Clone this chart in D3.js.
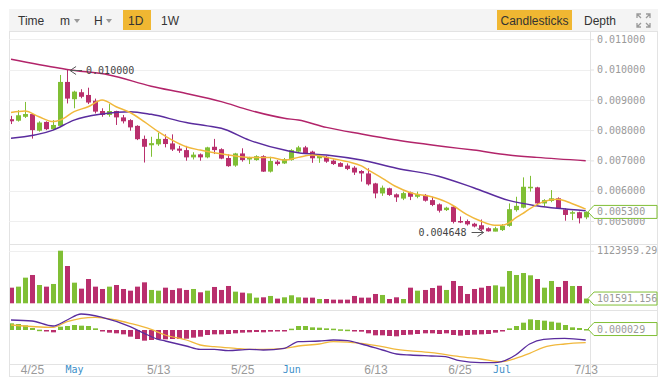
<!DOCTYPE html>
<html>
<head>
<meta charset="utf-8">
<script src="https://cdn.jsdelivr.net/npm/d3@7"></script>
<style>
  body { margin: 0; background: #fff; }
  svg { display: block; }
  .mono { font-family: "DejaVu Sans Mono", monospace; }
</style>
</head>
<body>
<svg id="chart" width="671" height="380"></svg>
<script>
// ---- data ----
const firstDay = new Date(Date.UTC(2018, 3, 22));
const lastDay = new Date(Date.UTC(2018, 6, 13));
const days = d3.utcDay.range(firstDay, d3.utcDay.offset(lastDay, 1)); // 83 daily candles

const open = [0.00836,0.00831,0.00844,0.00853,0.00798,0.00827,0.00803,0.00814,0.00959,0.00902,
  0.00925,0.00916,0.00897,0.00863,0.00850,0.00863,0.00842,0.00833,0.00814,0.00771,
  0.00750,0.00753,0.00771,0.00756,0.00739,0.00734,0.00710,0.00720,0.00710,0.00745,
  0.00737,0.00708,0.00683,0.00723,0.00703,0.00701,0.00714,0.00663,0.00696,0.00690,
  0.00701,0.00729,0.00743,0.00729,0.00707,0.00712,0.00699,0.00691,0.00683,0.00676,
  0.00665,0.00657,0.00624,0.00591,0.00608,0.00588,0.00574,0.00594,0.00580,0.00586,
  0.00569,0.00555,0.00536,0.00547,0.00500,0.00500,0.00491,0.00486,0.00476,0.00465,
  0.00470,0.00484,0.00536,0.00544,0.00608,0.00611,0.00558,0.00566,0.00575,0.00538,
  0.00525,0.00529,0.00512];
const high = [0.00847,0.00866,0.00893,0.00855,0.00829,0.00829,0.00833,0.00982,0.01000,0.00930,
  0.00935,0.00940,0.00904,0.00872,0.00886,0.00864,0.00850,0.00836,0.00816,0.00782,
  0.00778,0.00791,0.00786,0.00786,0.00748,0.00748,0.00727,0.00723,0.00745,0.00771,
  0.00740,0.00720,0.00725,0.00740,0.00712,0.00717,0.00717,0.00712,0.00701,0.00708,
  0.00737,0.00748,0.00748,0.00732,0.00721,0.00715,0.00703,0.00694,0.00690,0.00681,
  0.00668,0.00674,0.00626,0.00617,0.00610,0.00591,0.00597,0.00597,0.00597,0.00589,
  0.00580,0.00558,0.00547,0.00550,0.00515,0.00505,0.00494,0.00505,0.00479,0.00481,
  0.00490,0.00558,0.00580,0.00644,0.00649,0.00613,0.00572,0.00602,0.00578,0.00542,
  0.00534,0.00531,0.00532];
const low = [0.00820,0.00828,0.00840,0.00772,0.00795,0.00800,0.00800,0.00812,0.00888,0.00872,
  0.00905,0.00886,0.00855,0.00844,0.00844,0.00817,0.00822,0.00798,0.00767,0.00693,
  0.00712,0.00748,0.00743,0.00731,0.00725,0.00699,0.00703,0.00699,0.00707,0.00721,
  0.00704,0.00679,0.00679,0.00696,0.00688,0.00699,0.00662,0.00660,0.00683,0.00688,
  0.00699,0.00725,0.00721,0.00692,0.00692,0.00692,0.00685,0.00679,0.00668,0.00652,
  0.00630,0.00617,0.00575,0.00583,0.00583,0.00563,0.00569,0.00569,0.00575,0.00564,
  0.00549,0.00528,0.00533,0.00492,0.00493,0.00485,0.00479,0.00467,0.004648,0.00466,
  0.00467,0.00481,0.00531,0.00542,0.00597,0.00553,0.00547,0.00562,0.00540,0.00501,
  0.00503,0.00492,0.00506];
const close = [0.00829,0.00849,0.00853,0.00800,0.00825,0.00803,0.00817,0.00959,0.00904,0.00927,
  0.00910,0.00891,0.00861,0.00850,0.00863,0.00842,0.00829,0.00809,0.00770,0.00745,
  0.00757,0.00771,0.00754,0.00736,0.00732,0.00710,0.00719,0.00710,0.00743,0.00734,
  0.00706,0.00681,0.00723,0.00701,0.00708,0.00714,0.00663,0.00698,0.00688,0.00704,
  0.00734,0.00743,0.00723,0.00707,0.00715,0.00696,0.00688,0.00679,0.00672,0.00660,
  0.00657,0.00621,0.00591,0.00610,0.00586,0.00578,0.00592,0.00580,0.00589,0.00567,
  0.00553,0.00534,0.00544,0.00497,0.00496,0.00489,0.00482,0.00472,0.00466,0.00476,
  0.00484,0.00539,0.00550,0.00613,0.00613,0.00558,0.00569,0.00575,0.00542,0.00520,
  0.00529,0.00509,0.00530];
const volume = [334000,356000,548000,605000,391000,356000,413000,1123959.29,797000,441000,
  313000,519000,356000,306000,356000,391000,306000,270000,356000,448000,
  285000,270000,334000,285000,320000,285000,306000,235000,270000,349000,
  285000,370000,249000,228000,213000,121000,128000,157000,100000,128000,
  171000,128000,121000,121000,92000,92000,78000,78000,78000,157000,
  121000,121000,199000,178000,92000,128000,92000,334000,270000,285000,
  327000,377000,285000,477000,370000,199000,306000,334000,370000,384000,
  356000,690000,605000,647000,598000,519000,334000,477000,349000,477000,
  370000,370000,101591.156];
const macdHist = [0.00020,0.00018,0.00014,0.00006,0.00001,-0.00002,-0.00007,0.00010,0.00012,0.00015,
  0.00013,0.00012,0.00005,-0.00003,-0.00008,-0.00010,-0.00013,-0.00020,-0.00027,-0.00032,
  -0.00030,-0.00028,-0.00028,-0.00027,-0.00027,-0.00026,-0.00023,-0.00020,-0.00015,-0.00013,
  -0.00013,-0.00012,-0.00010,-0.00008,-0.00007,-0.00006,-0.00007,-0.00005,-0.00004,-0.00002,
  0.00004,0.00012,0.00012,0.00008,0.00007,0.00005,0.00004,0.00002,0.00001,-0.00003,
  -0.00005,-0.00010,-0.00016,-0.00016,-0.00018,-0.00019,-0.00015,-0.00014,-0.00012,-0.00010,
  -0.00010,-0.00012,-0.00010,-0.00015,-0.00017,-0.00015,-0.00014,-0.00013,-0.00012,-0.00008,
  -0.00003,0.00005,0.00012,0.00022,0.00032,0.00030,0.00028,0.00025,0.00022,0.00015,
  0.00008,0.00006,0.000029];

// moving averages, read at [candle index, value]
const ma7 = [[0,0.00858],[2,0.00863],[4,0.00844],[6,0.00828],[7,0.00833],[9,0.00861],[11,0.00877],
  [13,0.00899],[15,0.00877],[17,0.00858],[19,0.00828],[21,0.00795],[23,0.00767],[25,0.00745],
  [27,0.00734],[29,0.00725],[31,0.00718],[34,0.00710],[37,0.00710],[39,0.00701],[41,0.00710],
  [43,0.00718],[45,0.00710],[48,0.00696],[50,0.00682],[51,0.00668],[53,0.00641],[55,0.00613],
  [57,0.00593],[60,0.00580],[62,0.00564],[63,0.00552],[65,0.00522],[67,0.00500],[69,0.00486],
  [70,0.00486],[71,0.00493],[72,0.00510],[73,0.00524],[74,0.00540],[76,0.00564],[78,0.00572],
  [80,0.00558],[82,0.00539]];
const ma25 = [[0,0.00773],[6,0.00800],[9,0.00833],[13,0.00853],[17,0.00861],[20,0.00852],
  [25,0.00825],[28,0.00814],[30,0.00806],[34,0.00767],[39,0.00734],[41,0.00725],[45,0.00718],
  [50,0.00701],[55,0.00674],[61,0.00648],[66,0.00610],[71,0.00568],[75,0.00550],[82,0.00534]];
const ma99 = [[0,0.01034],[7,0.01004],[8,0.01000],[14,0.00982],[20,0.00945],[25,0.00921],
  [30,0.00894],[34,0.00866],[39,0.00839],[41,0.00833],[45,0.00809],[50,0.00787],[55,0.00767],
  [62,0.00745],[66,0.00734],[71,0.00718],[75,0.00710],[82,0.00699]];
const dif = [[0,0.00030],[3,0.00027],[6,0.00012],[8,0.00030],[10,0.00048],[13,0.00038],[17,0.00010],
  [19,-0.00010],[21,-0.00028],[22,-0.00033],[25,-0.00048],[27,-0.00058],[29,-0.00058],[31,-0.00062],
  [34,-0.00058],[36,-0.00060],[39,-0.00055],[41,-0.00035],[44,-0.00033],[46,-0.00030],[48,-0.00032],
  [50,-0.00042],[53,-0.00060],[55,-0.00072],[57,-0.00075],[60,-0.00078],[62,-0.00080],[64,-0.00092],
  [67,-0.00098],[69,-0.00098],[70,-0.00095],[72,-0.00075],[74,-0.00042],[76,-0.00028],[79,-0.00025],
  [82,-0.00030]];
const dea = [[0,0.00015],[6,0.00008],[8,0.00025],[12,0.00038],[15,0.00030],[17,0.00020],[20,0.00002],
  [22,-0.00015],[25,-0.00030],[27,-0.00045],[29,-0.00050],[32,-0.00055],[34,-0.00058],[36,-0.00058],
  [39,-0.00055],[41,-0.00048],[44,-0.00042],[46,-0.00035],[50,-0.00040],[53,-0.00050],[55,-0.00058],
  [60,-0.00068],[64,-0.00080],[67,-0.00087],[70,-0.00095],[72,-0.00085],[74,-0.00070],[76,-0.00052],
  [79,-0.00042],[82,-0.00038]];

const priceTicks = [0.011, 0.010, 0.009, 0.008, 0.007, 0.006, 0.005];
const tickDates = ["2018-04-25","2018-05-01","2018-05-13","2018-05-25","2018-06-01","2018-06-13","2018-06-25","2018-07-01","2018-07-13"];
const tickLabels = ["4/25","May","5/13","5/25","Jun","6/13","6/25","Jul","7/13"];
const monthTicks = ["May","Jun","Jul"];
const toolbarLeft = ["Time","m","H","1D","1W"];
const toolbarRight = ["Candlesticks","Depth"];
const highMark = {index: 8, label: "0.010000"};
const lowMark = {index: 68, label: "0.004648"};
const lastPriceLabel = "0.005300";
const lastVolLabel = "101591.156";
const lastMacdLabel = "0.000029";

// ---- colours ----
const upColor = "#80bf35", downColor = "#b92f6d";
const ma7Color = "#f1b83c", ma25Color = "#5a2c9e", ma99Color = "#b2246a";
const gridColor = "#efefef", borderColor = "#e3e3e3", axisText = "#9a9a9a";

// ---- layout ----
const svg = d3.select("#chart");
const left = 9, right = 658, plotRight = 590;
const priceTop = 31, priceBottom = 244, volBottom = 310, macdBottom = 364, frameBottom = 377;

const x = d3.scaleUtc().domain([days[0], days[days.length - 1]]).range([11, 585.7]);
const yPrice = d3.scaleLinear().domain([0.004241, 0.011271]).range([priceBottom, priceTop]);
const yVol = d3.scaleLinear().domain([0, 1123959.29]).range([303.3, 250.7]);
const yMacd = d3.scaleLinear().domain([-0.00102, 0.0006]).range([macdBottom, volBottom]);

const candleW = 5;
const isUp = i => close[i] >= open[i];
const idx = d3.range(days.length);

// toolbar
svg.append("rect").attr("x", left).attr("y", 9).attr("width", right - left).attr("height", priceTop - 9)
  .attr("fill", "#f4f4f4");
const tb = svg.append("g").attr("font-family", "'Liberation Sans', Arial, sans-serif").attr("font-size", 12).attr("fill", "#333");
const leftPos = [18, 60, 94, 128, 161];
toolbarLeft.forEach((t, i) => {
  if (t === "1D") {
    svg.insert("rect", "g").attr("x", 123).attr("y", 10).attr("width", 28).attr("height", 20).attr("fill", "#f0b732");
  }
  tb.append("text").attr("x", leftPos[i]).attr("y", 25).text(t);
  if (t === "m" || t === "H") {
    const cx = leftPos[i] + (t === "m" ? 17 : 15);
    tb.append("path").attr("d", `M${cx - 3},19 L${cx + 3},19 L${cx},23 Z`).attr("fill", "#999");
  }
});
svg.insert("rect", "g").attr("x", 497).attr("y", 10).attr("width", 75).attr("height", 20).attr("fill", "#f0b732");
tb.append("text").attr("x", 534.5).attr("y", 25).attr("text-anchor", "middle").text(toolbarRight[0]);
tb.append("text").attr("x", 584).attr("y", 25).text(toolbarRight[1]);
// fullscreen icon
const fs = svg.append("g").attr("stroke", "#9a9a9a").attr("stroke-width", 1.3).attr("fill", "none");
[[637, 14, 1, 1], [650, 14, -1, 1], [637, 27, 1, -1], [650, 27, -1, -1]].forEach(([cx, cy, dx, dy]) => {
  fs.append("path").attr("d", `M${cx},${cy + 4 * dy} L${cx},${cy} L${cx + 4 * dx},${cy} M${cx},${cy} L${cx + 4 * dx},${cy + 4 * dy}`);
});

// frame and pane separators
svg.append("rect").attr("x", left + 0.5).attr("y", priceTop + 0.5).attr("width", right - left - 1).attr("height", frameBottom - priceTop - 1)
  .attr("fill", "none").attr("stroke", borderColor);
svg.append("line").attr("x1", plotRight + 0.5).attr("x2", plotRight + 0.5).attr("y1", priceTop).attr("y2", frameBottom).attr("stroke", borderColor);
[priceBottom, volBottom, macdBottom].forEach(y => {
  svg.append("line").attr("x1", left).attr("x2", right).attr("y1", y + 0.5).attr("y2", y + 0.5).attr("stroke", borderColor);
});

// grid
svg.append("g").selectAll("line").data(priceTicks).join("line")
  .attr("x1", left).attr("x2", plotRight).attr("y1", d => Math.round(yPrice(d)) + 0.5).attr("y2", d => Math.round(yPrice(d)) + 0.5)
  .attr("stroke", gridColor);
svg.append("line").attr("x1", left).attr("x2", plotRight)
  .attr("y1", Math.round(yVol(1123959.29)) + 0.5).attr("y2", Math.round(yVol(1123959.29)) + 0.5).attr("stroke", gridColor);

// clip for the plot area
svg.append("clipPath").attr("id", "plotClip").append("rect")
  .attr("x", left + 1).attr("y", priceTop + 1).attr("width", plotRight - left - 1).attr("height", macdBottom - priceTop - 1);
const plot = svg.append("g").attr("clip-path", "url(#plotClip)");

// candles
const candles = plot.append("g");
candles.selectAll("line").data(idx).join("line")
  .attr("x1", i => Math.round(x(days[i])) + 0.5).attr("x2", i => Math.round(x(days[i])) + 0.5)
  .attr("y1", i => yPrice(high[i])).attr("y2", i => yPrice(low[i]))
  .attr("stroke", i => isUp(i) ? upColor : downColor);
candles.selectAll("rect").data(idx).join("rect")
  .attr("x", i => Math.round(x(days[i])) + 0.5 - candleW / 2)
  .attr("y", i => yPrice(Math.max(open[i], close[i])))
  .attr("width", candleW)
  .attr("height", i => Math.max(1.5, Math.abs(yPrice(open[i]) - yPrice(close[i]))))
  .attr("fill", i => isUp(i) ? upColor : downColor);

// moving averages
const maLine = d3.line().x(d => x(days[d[0]])).y(d => yPrice(d[1])).curve(d3.curveMonotoneX);
[[ma99, ma99Color], [ma25, ma25Color], [ma7, ma7Color]].forEach(([pts, c]) => {
  plot.append("path").attr("d", maLine(pts)).attr("fill", "none").attr("stroke", c).attr("stroke-width", 1.5);
});

// volume
plot.append("g").selectAll("rect").data(idx).join("rect")
  .attr("x", i => Math.round(x(days[i])) + 0.5 - candleW / 2)
  .attr("y", i => yVol(volume[i]))
  .attr("width", candleW)
  .attr("height", i => yVol(0) - yVol(volume[i]))
  .attr("fill", i => isUp(i) ? upColor : downColor);

// macd histogram and lines
plot.append("g").selectAll("rect").data(idx).join("rect")
  .attr("x", i => Math.round(x(days[i])) + 0.5 - candleW / 2)
  .attr("y", i => yMacd(Math.max(0, macdHist[i])))
  .attr("width", candleW)
  .attr("height", i => Math.max(1.5, Math.abs(yMacd(macdHist[i]) - yMacd(0))))
  .attr("fill", i => macdHist[i] >= 0 ? upColor : downColor);
const macdLine = d3.line().x(d => x(days[d[0]])).y(d => yMacd(d[1])).curve(d3.curveMonotoneX);
plot.append("path").attr("d", macdLine(dea)).attr("fill", "none").attr("stroke", ma7Color).attr("stroke-width", 1.3);
plot.append("path").attr("d", macdLine(dif)).attr("fill", "none").attr("stroke", ma25Color).attr("stroke-width", 1.3);

// high / low markers
function marker(i, price, label, side) {
  const cx = x(days[i]);
  const y = Math.round(yPrice(price)) + 0.5;
  const g = svg.append("g").attr("stroke", "#555").attr("fill", "none").attr("stroke-width", 1);
  if (side === "right") {
    const tip = cx + 3;
    g.append("path").attr("d", `M${tip},${y} L${tip + 12},${y} M${tip + 6},${y - 4} L${tip},${y} L${tip + 6},${y + 4}`);
    svg.append("text").attr("class", "mono").attr("x", tip + 16).attr("y", y + 3.5).attr("font-size", 10).attr("fill", "#444").text(label);
  } else {
    const tip = cx - 4;
    g.append("path").attr("d", `M${tip},${y} L${tip - 12},${y} M${tip - 6},${y - 4} L${tip},${y} L${tip - 6},${y + 4}`);
    svg.append("text").attr("class", "mono").attr("x", tip - 17).attr("y", y + 3.5).attr("text-anchor", "end").attr("font-size", 10).attr("fill", "#444").text(label);
  }
}
marker(highMark.index, high[highMark.index], highMark.label, "right");
marker(lowMark.index, low[lowMark.index], lowMark.label, "left");

// price axis
const priceAxis = svg.append("g").attr("transform", `translate(${plotRight},0)`)
  .call(d3.axisRight(yPrice).tickValues(priceTicks).tickFormat(d3.format(".6f")).tickSize(4).tickPadding(3));
const volAxis = svg.append("g").attr("transform", `translate(${plotRight},0)`)
  .call(d3.axisRight(yVol).tickValues([1123959.29]).tickFormat(d3.format(".2f")).tickSize(4).tickPadding(3));
[priceAxis, volAxis].forEach(a => {
  a.select(".domain").remove();
  a.selectAll(".tick line").attr("stroke", borderColor);
  a.selectAll("text").attr("class", "mono").attr("font-size", 10).attr("fill", axisText);
});

// value boxes on the right
function valueBox(y, label) {
  const h = 13, x0 = plotRight - 2;
  svg.append("path")
    .attr("d", `M${x0},${y} L${x0 + 6},${y - h / 2} L${right - 1},${y - h / 2} L${right - 1},${y + h / 2} L${x0 + 6},${y + h / 2} Z`)
    .attr("fill", "#fff").attr("stroke", upColor).attr("stroke-width", 1);
  svg.append("text").attr("class", "mono").attr("x", plotRight + 7).attr("y", y + 3.5)
    .attr("font-size", 10).attr("fill", axisText).text(label);
}
valueBox(yPrice(close[close.length - 1]), lastPriceLabel);
valueBox(yVol(volume[volume.length - 1]), lastVolLabel);
valueBox(yMacd(macdHist[macdHist.length - 1]), lastMacdLabel);

// time axis
const xAxis = svg.append("g").attr("transform", `translate(0,${macdBottom})`)
  .call(d3.axisBottom(x).tickValues(tickDates.map(d => new Date(d + "T00:00:00Z")))
    .tickFormat((d, i) => tickLabels[i]).tickSize(0).tickPadding(3));
xAxis.select(".domain").remove();
xAxis.selectAll("text")
  .attr("dy", "0.62em")
  .attr("font-size", (d, i) => monthTicks.includes(tickLabels[i]) ? 10 : 12)
  .attr("font-family", (d, i) => monthTicks.includes(tickLabels[i]) ? "'DejaVu Sans Mono', monospace" : "'Liberation Sans', Arial, sans-serif")
  .attr("fill", (d, i) => monthTicks.includes(tickLabels[i]) ? "#3d8fc9" : axisText);
</script>
</body>
</html>
